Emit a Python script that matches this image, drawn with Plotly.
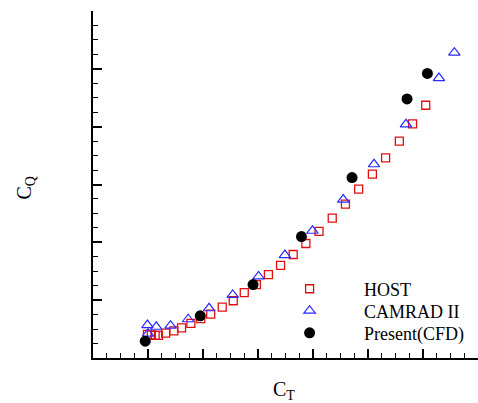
import plotly.graph_objects as go

# Thrust coefficient C_T and torque coefficient C_Q for each method
host_ct = [0.00399, 0.00406, 0.00413, 0.00419, 0.00432, 0.00447, 0.00461, 0.00478,
           0.00496, 0.00514, 0.00535, 0.00555, 0.00575, 0.00597, 0.00619, 0.00641,
           0.00664, 0.00687, 0.00711, 0.00735, 0.00759, 0.00783, 0.00808, 0.00832,
           0.00857, 0.00881, 0.00905]
host_cq = [0.000241, 0.000240, 0.000239, 0.000239, 0.000243, 0.000247, 0.000252, 0.000260,
           0.000268, 0.000276, 0.000288, 0.000299, 0.000313, 0.000327, 0.000344, 0.000360,
           0.000379, 0.000398, 0.000419, 0.000442, 0.000466, 0.000492, 0.000518, 0.000546,
           0.000575, 0.000605, 0.000637]

camrad_ct = [0.00399, 0.00400, 0.00415, 0.00441, 0.00473, 0.00511, 0.00554, 0.00601,
             0.00649, 0.00699, 0.00755, 0.00811, 0.00869, 0.00929, 0.00957]
camrad_cq = [0.000257, 0.000242, 0.000254, 0.000256, 0.000267, 0.000286, 0.000309, 0.000341,
             0.000378, 0.000420, 0.000474, 0.000535, 0.000604, 0.000684, 0.000728]

cfd_ct = [0.00395, 0.00495, 0.00591, 0.00679, 0.00771, 0.00871, 0.00908]
cfd_cq = [0.000229, 0.000273, 0.000327, 0.000410, 0.000512, 0.000648, 0.000692]

series_names = ["HOST", "CAMRAD II", "Present(CFD)"]

SERIF = "Liberation Serif, Times New Roman, serif"

fig = go.Figure()
fig.add_trace(go.Scatter(
    x=host_ct, y=host_cq, mode="markers", name=series_names[0], legend="legend",
    marker=dict(symbol="square-open", size=8, color="#e01010", line=dict(width=1.3)),
))
fig.add_trace(go.Scatter(
    x=camrad_ct, y=camrad_cq, mode="markers", name=series_names[1], legend="legend2",
    marker=dict(symbol="triangle-up-open", size=10, color="#2a2aff", line=dict(width=1.2)),
))
fig.add_trace(go.Scatter(
    x=cfd_ct, y=cfd_cq, mode="markers", name=series_names[2], legend="legend3",
    marker=dict(symbol="circle", size=11, color="black"),
))

axis_common = dict(
    showline=True, linewidth=2, linecolor="black", mirror=False,
    showgrid=False, zeroline=False, showticklabels=False,
    ticks="inside", ticklen=9, tickwidth=2, tickcolor="black",
)


def legend_box(y):
    # one legend per series so each row can be placed on its own
    return dict(
        x=0.421, y=y, xanchor="left", yanchor="top",
        font=dict(family=SERIF, size=18, color="black"),
        bgcolor="rgba(0,0,0,0)", itemwidth=99,
    )


fig.update_layout(
    width=478, height=403,
    margin=dict(l=93, r=0, t=11, b=45),
    paper_bgcolor="white", plot_bgcolor="white",
    showlegend=True,
    legend=legend_box(0.252),
    legend2=legend_box(0.189),
    legend3=legend_box(0.125),
    xaxis=dict(
        range=[0.003, 0.010], dtick=0.001, tick0=0.003,
        minor=dict(ticks="inside", ticklen=5, tickwidth=1, tickcolor="black", dtick=0.00025),
        **axis_common,
    ),
    yaxis=dict(
        range=[0.0002, 0.0008], dtick=0.0001, tick0=0.0002,
        minor=dict(ticks="inside", ticklen=5, tickwidth=1, tickcolor="black", dtick=0.000025),
        **axis_common,
    ),
    annotations=[
        dict(text="C<sub>T</sub>", xref="paper", yref="paper", x=0.495, y=-0.095,
             xanchor="center", yanchor="middle", showarrow=False,
             font=dict(family=SERIF, size=20, color="black")),
        dict(text="C<sub>Q</sub>", xref="paper", yref="paper", x=-0.175, y=0.49,
             xanchor="center", yanchor="middle", showarrow=False, textangle=-90,
             font=dict(family=SERIF, size=20, color="black")),
    ],
)

fig.write_html("out.html")
